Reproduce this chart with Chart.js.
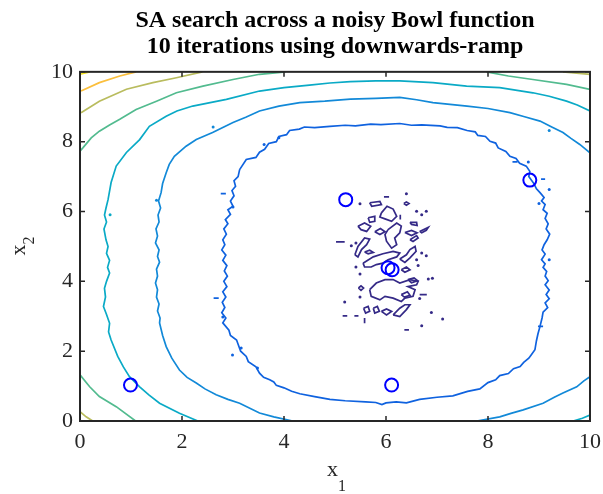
<!DOCTYPE html>
<html>
<head>
<meta charset="utf-8">
<script src="https://cdn.jsdelivr.net/npm/chart.js@4.4.1/dist/chart.umd.min.js"></script>
<style>
  html, body { margin: 0; padding: 0; background: #fff; }
</style>
</head>
<body>
<canvas id="contourChart" width="603" height="494"></canvas>
<script>
// ===============================
// Data
// ===============================

const titleLines = ["SA search across a noisy Bowl function", "10 iterations using downwards-ramp"];
const xTicks = [0, 2, 4, 6, 8, 10];
const yTicks = [0, 2, 4, 6, 8, 10];

// parula-like colours, one per contour level (lowest first)
const levelColors = ["#352a87", "#0f62df", "#1289d8", "#0aaac6", "#52bb8f", "#b9bc5e", "#fbbf3d", "#f5e31e"];

// SA iterations (x1, x2)
const iterX = [5.21, 8.82, 6.04, 6.12, 0.99, 6.11];
const iterY = [6.34, 6.90, 4.39, 4.33, 1.03, 1.03];

// level 1: closed ring around the minimum
const ring1 = [[3.13,7.20],[3.26,7.49],[3.45,7.55],[3.52,7.70],[3.62,7.78],[3.70,7.95],[3.85,8.00],[3.90,8.15],[4.05,8.20],[4.11,8.32],[4.30,8.36],[4.40,8.42],[4.60,8.40],[4.90,8.44],[5.20,8.47],[5.40,8.45],[5.70,8.50],[5.90,8.49],[6.27,8.52],[6.50,8.47],[6.70,8.48],[7.06,8.45],[7.20,8.41],[7.40,8.40],[7.59,8.32],[7.75,8.28],[7.80,8.18],[7.95,8.15],[8.04,8.01],[8.15,7.96],[8.20,7.82],[8.35,7.72],[8.43,7.58],[8.55,7.52],[8.62,7.38],[8.75,7.30],[8.82,7.15],[8.80,7.00],[8.90,6.80],[8.95,6.65],[9.02,6.54],[9.10,6.40],[9.05,6.30],[9.12,6.20],[9.08,6.05],[9.16,5.95],[9.12,5.80],[9.18,5.65],[9.14,5.50],[9.21,5.35],[9.16,5.19],[9.10,5.05],[9.06,4.90],[9.12,4.78],[9.05,4.62],[9.12,4.50],[9.08,4.40],[9.15,4.28],[9.12,4.15],[9.18,4.02],[9.12,3.90],[9.20,3.75],[9.14,3.62],[9.20,3.50],[9.12,3.38],[9.17,3.25],[9.08,3.12],[9.06,2.95],[9.02,2.71],[8.98,2.50],[8.95,2.30],[8.92,2.04],[8.85,1.90],[8.80,1.80],[8.70,1.68],[8.63,1.56],[8.50,1.50],[8.40,1.36],[8.23,1.30],[8.15,1.18],[8.00,1.10],[7.84,0.92],[7.60,0.85],[7.31,0.72],[7.00,0.68],[6.66,0.62],[6.40,0.52],[6.20,0.55],[6.00,0.52],[5.92,0.47],[5.80,0.53],[5.60,0.55],[5.20,0.58],[4.90,0.62],[4.60,0.70],[4.31,0.78],[4.15,0.85],[4.00,0.95],[3.85,1.02],[3.80,1.12],[3.72,1.18],[3.60,1.25],[3.52,1.37],[3.45,1.55],[3.30,1.70],[3.26,1.85],[3.15,2.00],[3.10,2.20],[3.07,2.32],[2.95,2.45],[2.92,2.60],[2.80,2.81],[2.86,2.95],[2.78,3.10],[2.84,3.25],[2.79,3.40],[2.86,3.55],[2.80,3.70],[2.88,3.85],[2.82,4.00],[2.89,4.15],[2.83,4.30],[2.88,4.45],[2.80,4.60],[2.86,4.75],[2.78,4.90],[2.84,5.05],[2.80,5.19],[2.87,5.35],[2.82,5.50],[2.90,5.65],[2.85,5.77],[2.95,5.92],[2.90,6.05],[3.00,6.15],[2.95,6.30],[3.02,6.45],[2.98,6.60],[3.05,6.72],[3.02,6.88],[3.10,7.00],[3.13,7.20]];

// level 2
const ring2Top = [[10,7.68],[9.80,7.92],[9.62,8.10],[9.47,8.26],[9.25,8.42],[9.02,8.59],[8.70,8.72],[8.43,8.83],[8.00,8.95],[7.59,9.02],[6.92,9.12],[6.60,9.20],[6.27,9.27],[5.80,9.24],[5.30,9.22],[4.80,9.16],[4.31,9.12],[3.90,9.02],[3.52,8.88],[3.25,8.70],[3.00,8.55],[2.60,8.26],[2.28,8.06],[2.08,7.87],[1.85,7.58],[1.75,7.35],[1.69,7.11],[1.62,6.80],[1.59,6.54],[1.54,6.30],[1.58,6.10],[1.53,5.90],[1.55,5.70],[1.49,5.50],[1.52,5.30],[1.48,5.10],[1.55,4.90],[1.52,4.71],[1.56,4.55],[1.50,4.35],[1.52,4.15],[1.48,3.95],[1.52,3.76],[1.50,3.55],[1.55,3.35],[1.52,3.15],[1.57,2.95],[1.56,2.81],[1.62,2.45],[1.69,2.13],[1.80,1.80],[1.95,1.46],[2.10,1.25],[2.28,1.09],[2.45,0.92],[2.67,0.75],[2.90,0.62],[3.13,0.51],[3.52,0.23],[3.80,0.12],[4.17,0]];
const ring2Corner = [[7.78,0],[8.23,0.12],[8.45,0.22],[8.69,0.32],[9.08,0.51],[9.30,0.68],[9.47,0.80],[9.74,0.98],[9.88,1.15],[10,1.27]];

// level 3
const ring3Top = [[10,8.88],[9.75,9.05],[9.54,9.16],[9.20,9.30],[8.88,9.40],[8.23,9.55],[7.58,9.59],[6.92,9.69],[6.27,9.74],[5.80,9.74],[5.30,9.72],[4.90,9.68],[4.50,9.62],[4.00,9.55],[3.52,9.45],[2.87,9.21],[2.21,9.02],[1.90,8.88],[1.69,8.73],[1.36,8.44],[1.17,8.06],[0.91,7.69],[0.71,7.30],[0.61,6.83],[0.55,6.34],[0.51,6.10],[0.48,5.90],[0.52,5.70],[0.47,5.50],[0.51,5.19],[0.55,5.00],[0.52,4.80],[0.58,4.60],[0.54,4.40],[0.58,4.24],[0.52,4.00],[0.48,3.80],[0.50,3.55],[0.46,3.28],[0.52,3.05],[0.58,2.80],[0.56,2.55],[0.61,2.32],[0.74,1.85],[0.85,1.55],[0.97,1.27],[1.17,0.98],[1.35,0.75],[1.56,0.51],[1.95,0.22],[2.31,0]];
const ring3Corner = [[9.67,0],[9.85,0.08],[10,0.17]];

// level 4
const ring4Top = [[0,7.73],[0.06,7.83],[0.22,8.11],[0.38,8.30],[0.58,8.48],[0.78,8.64],[1.10,8.92],[1.50,9.16],[1.89,9.40],[2.41,9.59],[3.00,9.78],[3.52,9.93],[4.03,10]];
const ring4Right = [[7.97,10],[8.40,9.88],[8.88,9.78],[9.54,9.64],[10,9.50]];
const ring4Corner = [[0,1.32],[0.19,0.98],[0.38,0.70],[0.71,0.41],[1.09,0]];

// level 5
const ring5Top = [[0.02,8.83],[0.38,9.16],[0.91,9.50],[1.43,9.69],[1.89,9.83],[2.40,10]];
const ring5Right = [[9.47,10],[10,9.93]];
const ring5Corner = [[0,0.27],[0.12,0.12],[0.25,0]];

// level 6 and 7 (top-left corner)
const ring6Top = [[0.02,9.45],[0.38,9.69],[0.78,9.88],[1.10,10]];
const ring7Top = [[0,9.93],[0.19,10]];

// level 0: noisy islands near the minimum (closed loops)
const noiseLoops = [
  [[5.68,6.25],[5.88,6.29],[5.91,6.20],[5.72,6.15]],
  [[6.35,6.23],[6.40,6.27],[6.45,6.23],[6.40,6.18]],
  [[5.91,5.96],[6.02,6.15],[6.14,6.07],[6.21,5.86],[6.11,5.72],[5.98,5.79],[5.88,5.84]],
  [[5.65,5.82],[5.78,5.86],[5.78,5.72],[5.68,5.69]],
  [[5.45,5.58],[5.58,5.67],[5.70,5.58],[5.62,5.43],[5.51,5.48]],
  [[5.78,5.42],[5.89,5.51],[5.98,5.42],[5.88,5.34]],
  [[6.04,5.48],[6.21,5.67],[6.30,5.58],[6.27,5.39],[6.17,5.24],[6.21,5.05],[6.11,4.95],[6.01,5.15],[5.98,5.34]],
  [[6.37,5.40],[6.50,5.46],[6.61,5.39],[6.50,5.31]],
  [[6.47,5.19],[6.60,5.31],[6.63,5.24],[6.53,5.14]],
  [[6.66,5.43],[6.83,5.55],[6.79,5.46],[6.70,5.39]],
  [[6.47,5.69],[6.60,5.69],[6.61,5.60],[6.50,5.63]],
  [[5.39,4.76],[5.45,5.00],[5.58,5.24],[5.68,5.21],[5.62,5.05],[5.52,4.91],[5.45,4.70]],
  [[5.58,4.84],[5.68,4.89],[5.75,4.83],[5.65,4.79]],
  [[5.55,4.52],[5.75,4.70],[5.94,4.79],[6.14,4.86],[6.27,4.81],[6.21,4.70],[6.04,4.62],[5.94,4.52],[5.81,4.48],[5.71,4.41],[5.58,4.41]],
  [[6.27,4.64],[6.40,4.76],[6.47,4.91],[6.57,5.00],[6.59,4.86],[6.47,4.67],[6.37,4.54]],
  [[6.30,4.33],[6.40,4.41],[6.47,4.33],[6.37,4.26]],
  [[5.68,3.76],[5.81,3.95],[5.98,4.05],[6.14,4.05],[6.27,3.95],[6.47,4.05],[6.63,4.00],[6.60,3.90],[6.43,3.85],[6.57,3.76],[6.53,3.57],[6.37,3.52],[6.30,3.42],[6.14,3.52],[5.98,3.57],[5.88,3.47],[5.71,3.57]],
  [[6.14,3.04],[6.27,3.23],[6.37,3.33],[6.47,3.33],[6.40,3.19],[6.27,2.99]],
  [[5.91,3.14],[6.01,3.21],[6.11,3.14],[6.01,3.04]],
  [[5.56,3.23],[5.65,3.28],[5.68,3.14],[5.60,3.09]],
  [[5.75,3.23],[5.83,3.28],[5.87,3.14],[5.78,3.09]],
  [[5.46,3.81],[5.51,3.87],[5.56,3.81],[5.51,3.74]],
  [[6.43,4.05],[6.55,4.10],[6.62,4.02],[6.50,3.96]],
  [[6.30,3.62],[6.42,3.70],[6.47,3.60],[6.36,3.55]]
];

// short dashes and dots of the same levels
const noiseDashes = [
  [[5.96,6.42],[6.06,6.42]], [[6.28,5.91],[6.28,5.77]], [[5.02,5.13],[5.19,5.13]],
  [[5.15,3.01],[5.24,3.01]], [[5.38,3.01],[5.46,3.01]], [[6.36,2.61],[6.45,2.61]],
  [[5.58,2.95],[5.58,2.80]], [[6.66,3.62],[6.80,3.62]]
];
const noiseDotX = [6.40, 5.49, 6.60, 6.70, 6.79, 5.32, 5.41, 5.49, 5.41, 5.49, 5.19, 6.83, 6.91, 6.89, 7.11, 6.70, 6.66, 6.63, 6.70, 6.79, 6.60];
const noiseDotY = [6.51, 6.22, 6.01, 5.91, 6.01, 5.02, 5.10, 4.21, 4.41, 3.55, 3.41, 4.07, 4.09, 3.11, 2.92, 2.73, 3.51, 4.45, 4.81, 4.73, 4.62];

const ring1Dashes = [[[2.76,6.51],[2.86,6.51]], [[2.62,3.52],[2.72,3.52]], [[8.48,7.42],[8.58,7.42]], [[9.04,6.93],[9.12,6.93]], [[8.98,2.71],[9.08,2.71]]];
const ring1DotX = [3.90, 3.61, 3.00, 2.80, 3.16, 2.99, 3.48, 8.79, 9.20, 9.00, 9.20];
const ring1DotY = [8.11, 7.92, 6.13, 2.98, 2.09, 1.89, 1.52, 7.42, 6.63, 6.23, 4.62];
const ring2DotX = [2.61, 1.50, 9.20];
const ring2DotY = [8.42, 6.32, 8.32];
const ring3DotX = [0.59];
const ring3DotY = [5.91];

// ===============================
// Dataset helpers
// ===============================

function toPoints(pts) {
    return pts.map(p => ({ x: p[0], y: p[1] }));
}

function contourLine(pts, color, closed) {
    const list = closed ? pts.concat([pts[0]]) : pts;
    return {
        data: toPoints(list),
        showLine: true,
        borderColor: color,
        borderWidth: 1.7,
        pointRadius: 0,
        fill: false,
        tension: 0,
        order: 2
    };
}

function dotSet(xs, ys, color) {
    return {
        data: xs.map((x, i) => ({ x: x, y: ys[i] })),
        showLine: false,
        pointRadius: 1.5,
        pointBorderWidth: 0,
        backgroundColor: color,
        borderColor: color,
        order: 2
    };
}

const datasets = [];
datasets.push(contourLine(ring1, levelColors[1], false));
datasets.push(contourLine(ring2Top, levelColors[2], false));
datasets.push(contourLine(ring2Corner, levelColors[2], false));
datasets.push(contourLine(ring3Top, levelColors[3], false));
datasets.push(contourLine(ring3Corner, levelColors[3], false));
datasets.push(contourLine(ring4Top, levelColors[4], false));
datasets.push(contourLine(ring4Right, levelColors[4], false));
datasets.push(contourLine(ring4Corner, levelColors[4], false));
datasets.push(contourLine(ring5Top, levelColors[5], false));
datasets.push(contourLine(ring5Right, levelColors[5], false));
datasets.push(contourLine(ring5Corner, levelColors[5], false));
datasets.push(contourLine(ring6Top, levelColors[6], false));
datasets.push(contourLine(ring7Top, levelColors[7], false));
noiseLoops.forEach(l => datasets.push(contourLine(l, levelColors[0], true)));
noiseDashes.forEach(l => datasets.push(contourLine(l, levelColors[0], false)));
ring1Dashes.forEach(l => datasets.push(contourLine(l, levelColors[1], false)));
datasets.push(dotSet(noiseDotX, noiseDotY, levelColors[0]));
datasets.push(dotSet(ring1DotX, ring1DotY, levelColors[1]));
datasets.push(dotSet(ring2DotX, ring2DotY, levelColors[2]));
datasets.push(dotSet(ring3DotX, ring3DotY, levelColors[3]));

// SA iterations on top
datasets.push({
    data: iterX.map((x, i) => ({ x: x, y: iterY[i] })),
    showLine: false,
    pointStyle: "circle",
    pointRadius: 6.5,
    pointBorderWidth: 2,
    borderColor: "#0000ff",
    backgroundColor: "rgba(0,0,0,0)",
    order: 0
});

// ===============================
// MATLAB-style box, inward ticks and subscripted labels
// ===============================

const axisColor = "#262626";
const serif = "'Liberation Serif', 'Times New Roman', serif";

const boxPlugin = {
    id: "matlabBox",
    afterDraw(chart) {
        const ctx = chart.ctx;
        const a = chart.chartArea;
        const xs = chart.scales.x;
        const ys = chart.scales.y;
        const tl = 5;
        ctx.save();
        ctx.strokeStyle = axisColor;
        ctx.lineWidth = 1.5;
        ctx.beginPath();
        xTicks.forEach(v => {
            const px = xs.getPixelForValue(v);
            ctx.moveTo(px, a.bottom); ctx.lineTo(px, a.bottom - tl);
            ctx.moveTo(px, a.top); ctx.lineTo(px, a.top + tl);
        });
        yTicks.forEach(v => {
            const py = ys.getPixelForValue(v);
            ctx.moveTo(a.left, py); ctx.lineTo(a.left + tl, py);
            ctx.moveTo(a.right, py); ctx.lineTo(a.right - tl, py);
        });
        ctx.stroke();
        ctx.lineWidth = 2;
        ctx.strokeRect(a.left, a.top, a.right - a.left, a.bottom - a.top);

        // x label: x with subscript 1
        ctx.fillStyle = axisColor;
        ctx.textBaseline = "alphabetic";
        ctx.textAlign = "left";
        const cx = (a.left + a.right) / 2;
        ctx.font = "22px " + serif;
        ctx.fillText("x", cx - 8, 476);
        ctx.font = "16px " + serif;
        ctx.fillText("1", cx + 3, 491);

        // y label: rotated x with subscript 2
        ctx.translate(25, (a.top + a.bottom) / 2);
        ctx.rotate(-Math.PI / 2);
        ctx.font = "22px " + serif;
        ctx.fillText("x", -9, 0);
        ctx.font = "16px " + serif;
        ctx.fillText("2", 2, 9);
        ctx.restore();
    }
};

// ===============================
// Chart
// ===============================

const ctx = document.getElementById("contourChart").getContext("2d");

new Chart(ctx, {
    type: "scatter",
    data: { datasets: datasets },
    options: {
        responsive: false,
        animation: false,
        devicePixelRatio: 1,
        layout: { padding: { top: 0, right: 13, bottom: 0, left: 0 } },
        plugins: {
            legend: { display: false },
            tooltip: { enabled: false },
            title: {
                display: true,
                fullSize: false,
                text: titleLines,
                color: "#000000",
                font: { family: serif, size: 24, weight: "bold", lineHeight: 1.08 },
                padding: { top: 8, bottom: 12 }
            }
        },
        scales: {
            x: {
                type: "linear",
                min: 0,
                max: 10,
                grid: { display: false, drawTicks: false },
                border: { display: false },
                ticks: {
                    stepSize: 2,
                    color: axisColor,
                    padding: 8,
                    font: { family: serif, size: 22 }
                },
                afterFit(scale) {
                    scale.height = 73;
                    scale.paddingLeft = 0;
                    scale.paddingRight = 0;
                }
            },
            y: {
                type: "linear",
                min: 0,
                max: 10,
                grid: { display: false, drawTicks: false },
                border: { display: false },
                ticks: {
                    stepSize: 2,
                    color: axisColor,
                    padding: 7,
                    font: { family: serif, size: 22 }
                },
                afterFit(scale) {
                    scale.width = 80;
                    scale.paddingTop = 0;
                    scale.paddingBottom = 0;
                }
            }
        }
    },
    plugins: [boxPlugin]
});
</script>
</body>
</html>
